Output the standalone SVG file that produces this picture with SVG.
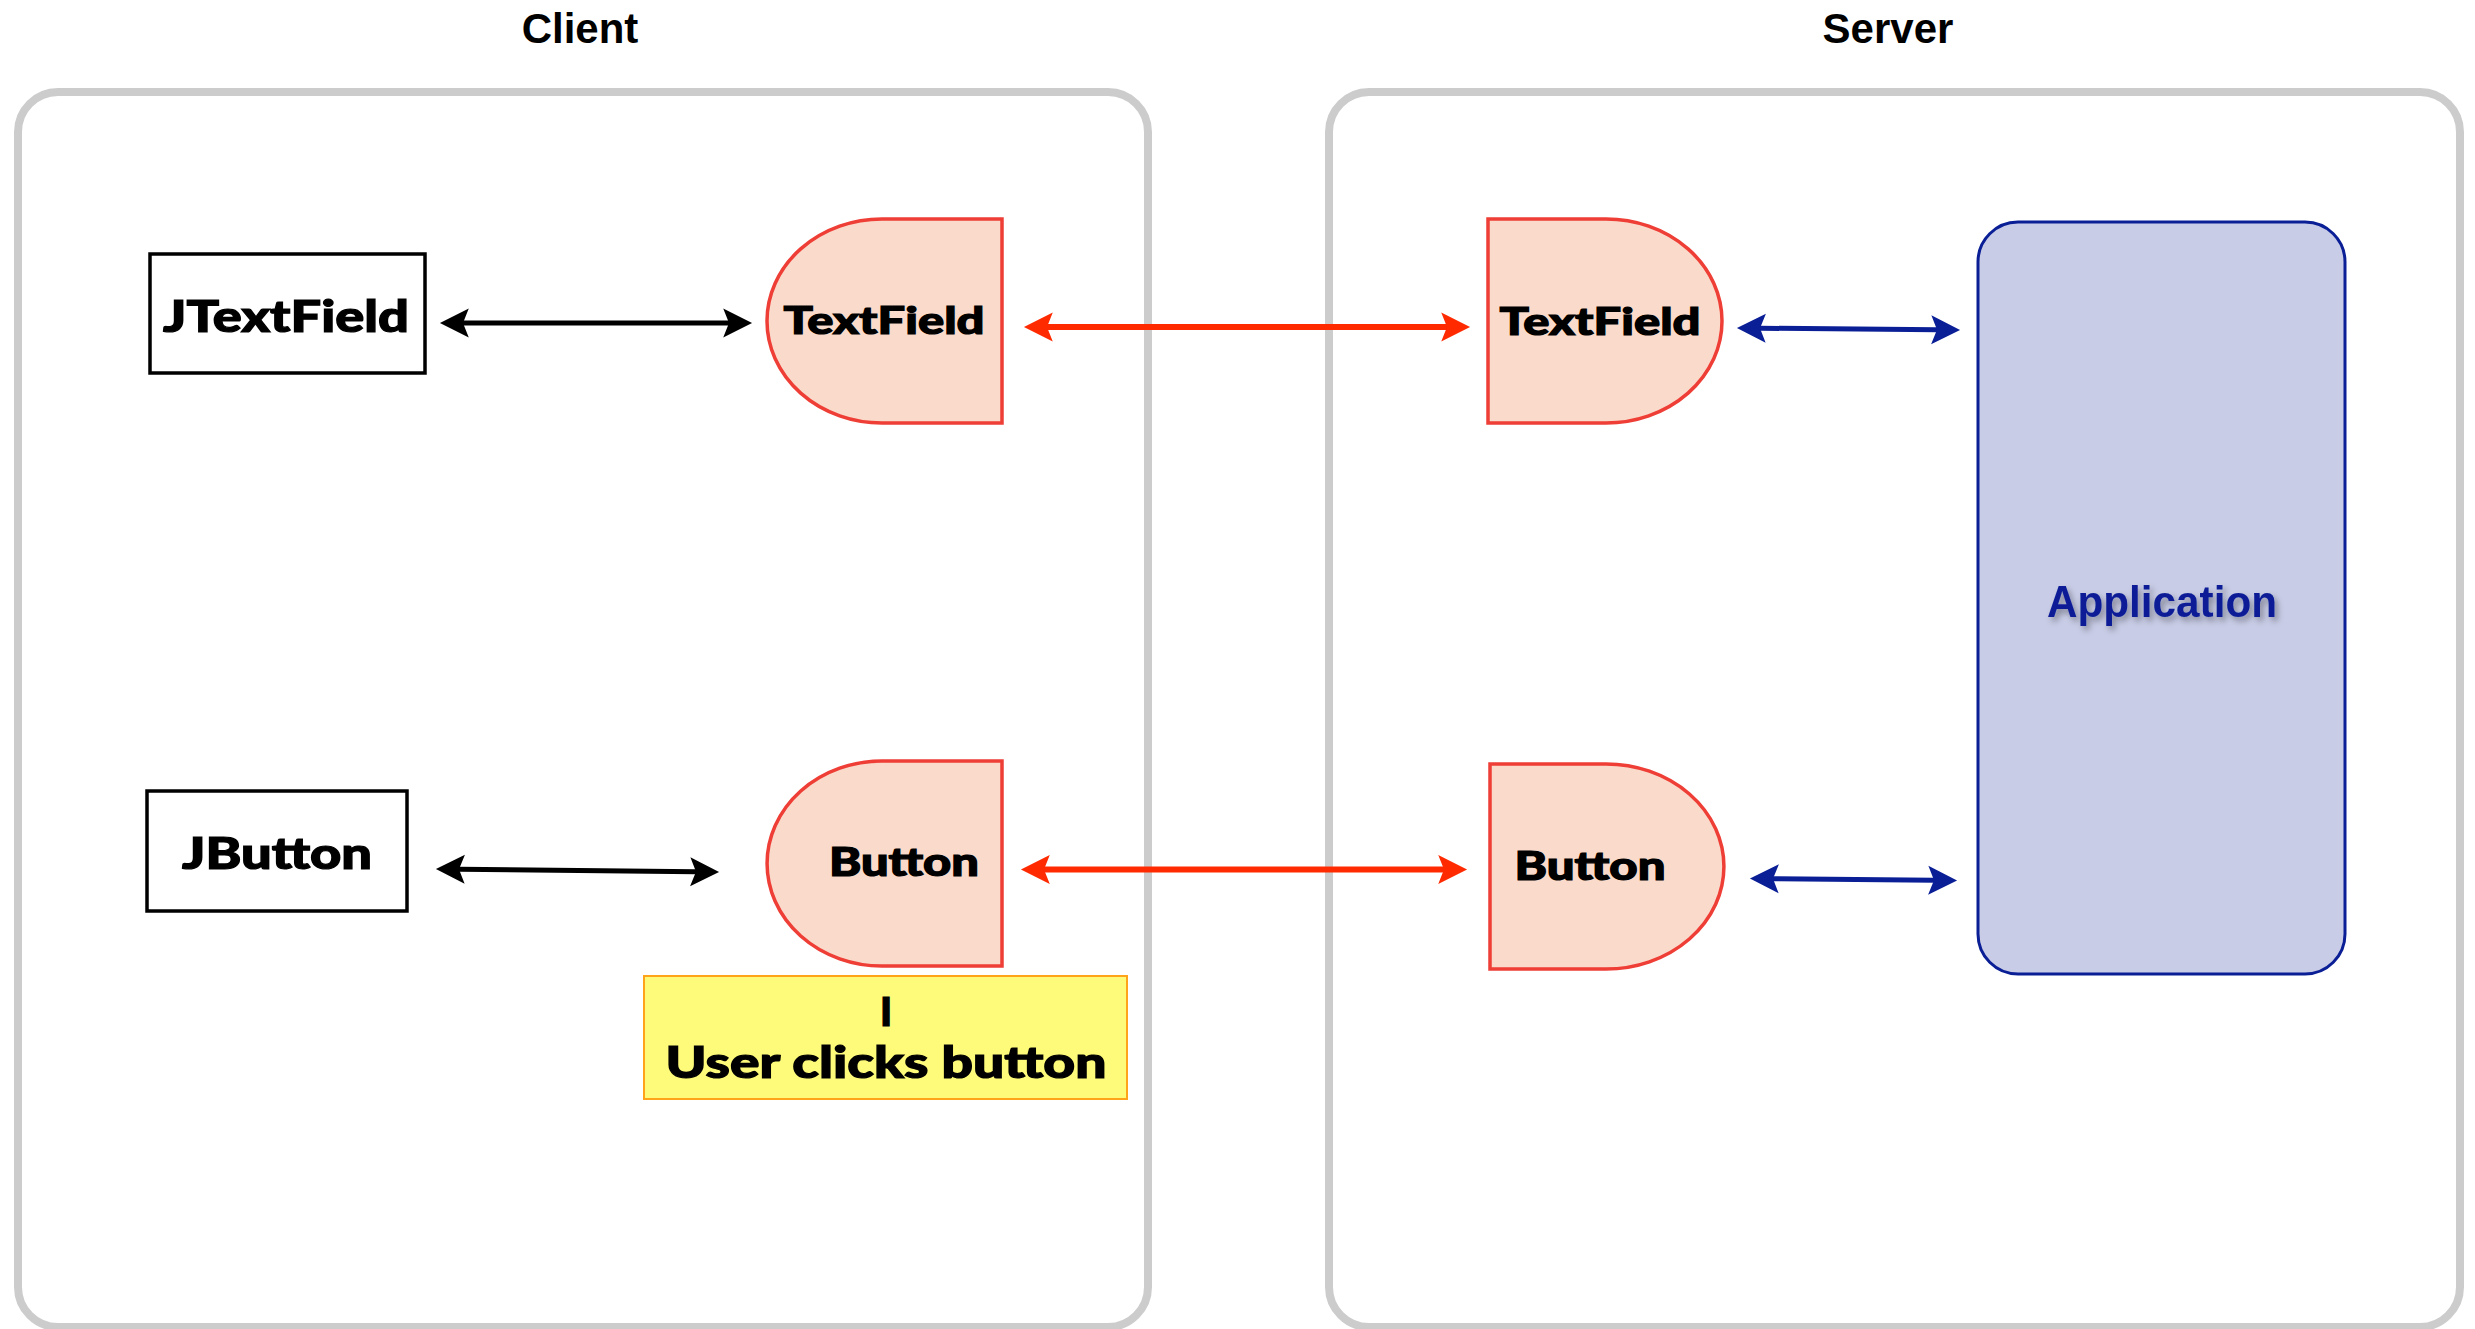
<svg xmlns="http://www.w3.org/2000/svg" width="2475" height="1329" viewBox="0 0 2475 1329">
<style>
.container{fill:#ffffff;stroke:#cccccc;stroke-width:8}
.title{font-family:"Liberation Sans",Arial,sans-serif;font-weight:bold;font-size:42px;fill:#000;text-anchor:middle}
.jbox{fill:#ffffff;stroke:#000;stroke-width:3.5}
.dshape{fill:#fadbcb;stroke:#ee3e36;stroke-width:3.5}
.lbl{font-family:Lato,"Open Sans","DejaVu Sans",sans-serif;font-weight:900;fill:#000;stroke:#000;stroke-width:1.2;text-anchor:middle}
.app{fill:#c8cce6;stroke:#0a1e96;stroke-width:3}
.applbl{font-family:"Liberation Sans",Arial,sans-serif;font-weight:bold;font-size:44px;fill:#0a1e96;text-anchor:middle}
.note{fill:#fffb7a;stroke:#ffa31a;stroke-width:2}
.cb{stroke:#000;stroke-width:5;fill:none}
.cr{stroke:#ff2a00;stroke-width:6;fill:none}
.cu{stroke:#0a1e96;stroke-width:5;fill:none}
</style>
<defs>
<marker id="hb" markerUnits="userSpaceOnUse" markerWidth="30" markerHeight="30" viewBox="0 -13 26 26" refX="5" refY="0" orient="auto-start-reverse">
<path d="M25,0 L0,-12.5 L5,0 L0,12.5 Z" fill="#000"/>
</marker>
<marker id="hr" markerUnits="userSpaceOnUse" markerWidth="30" markerHeight="30" viewBox="0 -13 26 26" refX="5" refY="0" orient="auto-start-reverse">
<path d="M25,0 L0,-12.5 L5,0 L0,12.5 Z" fill="#ff2a00"/>
</marker>
<marker id="hu" markerUnits="userSpaceOnUse" markerWidth="30" markerHeight="30" viewBox="0 -13 26 26" refX="5" refY="0" orient="auto-start-reverse">
<path d="M25,0 L0,-12.5 L5,0 L0,12.5 Z" fill="#0a1e96"/>
</marker>
<filter id="shadow" x="-10%" y="-30%" width="120%" height="160%">
<feDropShadow dx="3" dy="4" stdDeviation="3" flood-color="#000" flood-opacity="0.35"/>
</filter>
</defs>

<g id="client">
<rect class="container" x="18" y="92" width="1130" height="1235" rx="40"/>
<text class="title" x="580" y="43">Client</text>
</g>
<g id="server">
<rect class="container" x="1329" y="92" width="1131" height="1235" rx="40"/>
<text class="title" x="1888" y="43">Server</text>
</g>

<g id="jtextfield">
<rect class="jbox" x="150" y="254" width="275" height="119"/>
<text class="lbl" x="286" y="332" font-size="44" textLength="246" lengthAdjust="spacingAndGlyphs">JTextField</text>
</g>
<g id="jbutton">
<rect class="jbox" x="147" y="791" width="260" height="120"/>
<text class="lbl" x="277" y="869" font-size="43" textLength="190" lengthAdjust="spacingAndGlyphs">JButton</text>
</g>

<g id="client-textfield">
<path class="dshape" d="M1002,219 L882,219 A115,102 0 0 0 882,423 L1002,423 Z"/>
<text class="lbl" x="884" y="334" font-size="38" textLength="201" lengthAdjust="spacingAndGlyphs">TextField</text>
</g>
<g id="client-button">
<path class="dshape" d="M1002,761 L882,761 A115,102.5 0 0 0 882,966 L1002,966 Z"/>
<text class="lbl" x="904" y="876" font-size="39" textLength="150" lengthAdjust="spacingAndGlyphs">Button</text>
</g>

<g id="server-textfield">
<path class="dshape" d="M1488,219 L1606,219 A116,102 0 0 1 1606,423 L1488,423 Z"/>
<text class="lbl" x="1600" y="335" font-size="38" textLength="201" lengthAdjust="spacingAndGlyphs">TextField</text>
</g>
<g id="server-button">
<path class="dshape" d="M1490,764 L1606,764 A118,102.5 0 0 1 1606,969 L1490,969 Z"/>
<text class="lbl" x="1590" y="880" font-size="39" textLength="151" lengthAdjust="spacingAndGlyphs">Button</text>
</g>

<g id="application">
<rect class="app" x="1978" y="222" width="367" height="752" rx="40"/>
<text class="applbl" x="2162" y="617" textLength="230" lengthAdjust="spacingAndGlyphs" filter="url(#shadow)">Application</text>
</g>

<g id="note">
<rect class="note" x="644" y="976" width="483" height="123"/>
<text class="lbl" font-size="43"><tspan x="886" y="1026" font-size="40">I</tspan><tspan x="886" y="1078" textLength="441" lengthAdjust="spacingAndGlyphs">User clicks button</tspan></text>
</g>

<g id="connectors">
<line class="cb" x1="463" y1="323" x2="729" y2="323" marker-start="url(#hb)" marker-end="url(#hb)"/>
<line class="cb" x1="459" y1="869.2" x2="696" y2="871.8" marker-start="url(#hb)" marker-end="url(#hb)"/>
<line class="cr" x1="1047" y1="327" x2="1447" y2="327" marker-start="url(#hr)" marker-end="url(#hr)"/>
<line class="cr" x1="1044" y1="869.5" x2="1444" y2="869.5" marker-start="url(#hr)" marker-end="url(#hr)"/>
<line class="cu" x1="1760" y1="328.2" x2="1937" y2="329.8" marker-start="url(#hu)" marker-end="url(#hu)"/>
<line class="cu" x1="1773" y1="878.7" x2="1934" y2="880.3" marker-start="url(#hu)" marker-end="url(#hu)"/>
</g>
</svg>
